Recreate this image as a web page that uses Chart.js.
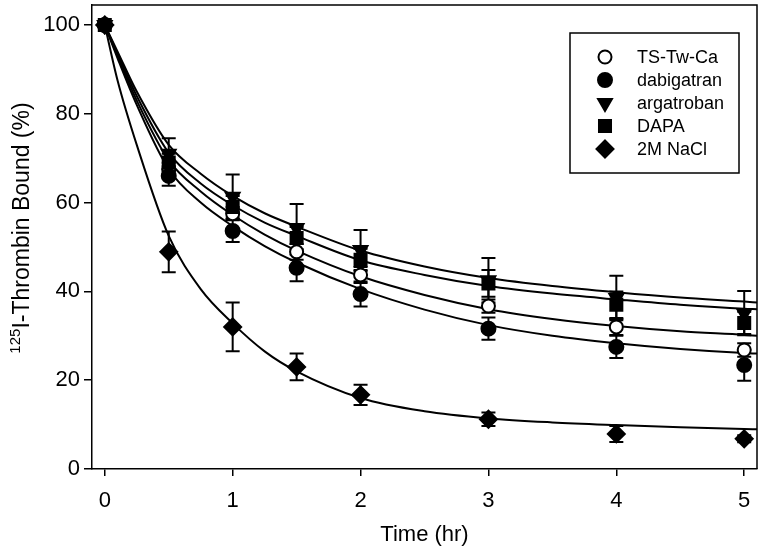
<!DOCTYPE html>
<html>
<head>
<meta charset="utf-8">
<script src="https://cdn.jsdelivr.net/npm/chart.js@4/dist/chart.umd.min.js"></script>
<style>
  html, body { margin: 0; padding: 0; background: #fff; }
</style>
</head>
<body>
<canvas id="chart" width="760" height="552"></canvas>
<script>
// Thrombin dissociation over time

const times = [0, 0.5, 1, 1.5, 2, 3, 4, 5];

const tsTwCa = [100, 67.5, 57.5, 48.9, 43.7, 36.7, 32.0, 26.8];
const tsTwCaSd = [0, 1.5, 1.5, 1.8, 1.8, 1.5, 1.8, 1.5];

const dabigatran = [100, 66.0, 53.6, 45.3, 39.4, 31.6, 27.5, 23.4];
const dabigatranSd = [0, 2.2, 2.5, 3.0, 2.8, 2.5, 2.5, 3.5];

const argatroban = [100, 71.0, 61.3, 54.3, 49.3, 42.5, 38.5, 35.1];
const argatrobanSd = [0, 3.5, 5.0, 5.4, 4.5, 5.0, 5.0, 5.0];

const dapa = [100, 69.0, 59.0, 52.0, 47.1, 41.8, 37.0, 32.9];
const dapaSd = [0, 2.0, 2.5, 2.5, 2.5, 3.0, 3.0, 2.5];

const nacl = [100, 48.9, 32.0, 23.0, 16.7, 11.2, 7.9, 6.8];
const naclSd = [0, 4.6, 5.5, 3.0, 2.3, 1.5, 1.8, 0.8];

// fitted curves
const fitTimes = [0, 0.1, 0.25, 0.5, 0.75, 1, 1.25, 1.5, 2, 2.5, 3, 3.5, 4, 4.5, 5, 5.1];
const argatrobanFit = [100, 94, 85, 73, 66.5, 61.5, 57.6, 54.6, 49.2, 45.6, 43.0, 41.2, 39.8, 38.6, 37.7, 37.5];
const dapaFit = [100, 93.5, 84, 71.2, 64.3, 59.4, 55.5, 52.5, 47.0, 43.7, 41.2, 39.5, 38.2, 37.0, 36.1, 36.0];
const tsTwCaFit = [100, 93, 83, 69.5, 62.5, 57.2, 52.8, 49.2, 43.4, 39.2, 36.0, 33.8, 32.2, 31.0, 30.2, 30.0];
const dabigatranFit = [100, 92.5, 82, 67.5, 60, 54.7, 50.2, 46.5, 40.5, 35.9, 32.4, 30.0, 28.3, 27.0, 26.1, 26.0];
const naclFit = [100, 87.5, 73, 52.5, 40.5, 32.8, 26.5, 22.0, 16.0, 13.0, 11.4, 10.5, 9.9, 9.4, 9.0, 8.95];

const xTicks = [0, 1, 2, 3, 4, 5];
const yTicks = [0, 20, 40, 60, 80, 100];

const FONT = "'Liberation Sans', Arial, sans-serif";

const series = [
  { label: "TS-Tw-Ca", values: tsTwCa, sd: tsTwCaSd, fit: tsTwCaFit, style: "circle", radius: 6.5, fill: "#fff", rotation: 0 },
  { label: "dabigatran", values: dabigatran, sd: dabigatranSd, fit: dabigatranFit, style: "circle", radius: 7, fill: "#000", rotation: 0 },
  { label: "argatroban", values: argatroban, sd: argatrobanSd, fit: argatrobanFit, style: "triangle", radius: 8, fill: "#000", rotation: 180 },
  { label: "DAPA", values: dapa, sd: dapaSd, fit: dapaFit, style: "rect", radius: 8.5, fill: "#000", rotation: 0 },
  { label: "2M NaCl", values: nacl, sd: naclSd, fit: naclFit, style: "rectRot", radius: 8.5, fill: "#000", rotation: 0 }
];

const datasets = [];

series.forEach((s, n) => {
  datasets.push({
    label: s.label + " fit",
    data: fitTimes.map((t, i) => ({ x: t, y: s.fit[i] })),
    showLine: true,
    borderColor: "#000",
    borderWidth: 2,
    pointRadius: 0,
    cubicInterpolationMode: "monotone",
    order: 10
  });
  datasets.push({
    label: s.label,
    data: times.map((t, i) => ({ x: t, y: s.values[i] })),
    sd: s.sd,
    showLine: false,
    pointStyle: s.style,
    pointRadius: s.radius,
    pointRotation: s.rotation,
    pointBackgroundColor: s.fill,
    pointBorderColor: "#000",
    pointBorderWidth: 2,
    order: 5 - n
  });
});

function drawMarker(ctx, s, x, y) {
  const r = s.radius;
  ctx.save();
  ctx.fillStyle = s.fill;
  ctx.strokeStyle = "#000";
  ctx.lineWidth = 2;
  ctx.beginPath();
  if (s.style === "circle") {
    ctx.arc(x, y, r, 0, Math.PI * 2);
  } else if (s.style === "triangle") {
    for (let k = 0; k < 3; k++) {
      const a = Math.PI + k * 2 * Math.PI / 3;
      const px = x + Math.sin(a) * r;
      const py = y - Math.cos(a) * r;
      if (k === 0) ctx.moveTo(px, py); else ctx.lineTo(px, py);
    }
    ctx.closePath();
  } else if (s.style === "rect") {
    const h = r * Math.SQRT1_2;
    ctx.rect(x - h, y - h, 2 * h, 2 * h);
  } else {
    ctx.moveTo(x, y - r);
    ctx.lineTo(x + r, y);
    ctx.lineTo(x, y + r);
    ctx.lineTo(x - r, y);
    ctx.closePath();
  }
  ctx.fill();
  ctx.stroke();
  ctx.restore();
}

const errorBars = {
  id: "errorBars",
  beforeDatasetsDraw(chart) {
    const ctx = chart.ctx;
    const xs = chart.scales.x;
    const ys = chart.scales.y;
    ctx.save();
    ctx.strokeStyle = "#000";
    ctx.lineWidth = 2;
    chart.data.datasets.forEach(ds => {
      if (!ds.sd) return;
      ds.data.forEach((p, i) => {
        const e = ds.sd[i];
        if (!e) return;
        const x = xs.getPixelForValue(p.x);
        const y1 = ys.getPixelForValue(p.y + e);
        const y2 = ys.getPixelForValue(p.y - e);
        ctx.beginPath();
        ctx.moveTo(x, y1); ctx.lineTo(x, y2);
        ctx.moveTo(x - 7, y1); ctx.lineTo(x + 7, y1);
        ctx.moveTo(x - 7, y2); ctx.lineTo(x + 7, y2);
        ctx.stroke();
      });
    });
    ctx.restore();
  }
};

const frame = {
  id: "frame",
  afterDraw(chart) {
    const ctx = chart.ctx;
    const a = chart.chartArea;
    ctx.save();
    ctx.strokeStyle = "#000";
    ctx.lineWidth = 1.5;
    ctx.beginPath();
    ctx.moveTo(a.left, a.top);
    ctx.lineTo(a.right, a.top);
    ctx.lineTo(a.right, a.bottom);
    ctx.stroke();

    // legend box
    ctx.strokeRect(570, 33, 169, 140);
    ctx.fillStyle = "#000";
    ctx.font = "18px " + FONT;
    ctx.textBaseline = "middle";
    ctx.textAlign = "left";
    series.forEach((s, i) => {
      const y = 57 + i * 23;
      drawMarker(ctx, s, 605, y);
      ctx.fillStyle = "#000";
      ctx.fillText(s.label, 637, y + 1);
    });

    // axis titles
    ctx.font = "22px " + FONT;
    ctx.textAlign = "center";
    ctx.textBaseline = "middle";
    ctx.fillText("Time (hr)", (a.left + a.right) / 2, 535);

    ctx.translate(22, 228);
    ctx.rotate(-Math.PI / 2);
    const sup = "125";
    const main = "I-Thrombin Bound (%)";
    ctx.font = "15px " + FONT;
    const wSup = ctx.measureText(sup).width;
    ctx.font = "23px " + FONT;
    const wMain = ctx.measureText(main).width;
    const start = -(wSup + wMain) / 2;
    ctx.textAlign = "left";
    ctx.font = "15px " + FONT;
    ctx.fillText(sup, start, -6);
    ctx.font = "23px " + FONT;
    ctx.fillText(main, start + wSup, 1);
    ctx.restore();
  }
};

new Chart(document.getElementById("chart"), {
  type: "scatter",
  data: { datasets },
  options: {
    responsive: false,
    animation: false,
    layout: { autoPadding: false, padding: { top: 5, right: 3, left: 0, bottom: 0 } },
    plugins: {
      legend: { display: false },
      tooltip: { enabled: false }
    },
    scales: {
      x: {
        type: "linear",
        min: -0.1,
        max: 5.1,
        afterBuildTicks: scale => { scale.ticks = xTicks.map(v => ({ value: v })); },
        afterFit: scale => { scale.height = 83; scale.paddingLeft = 0; scale.paddingRight = 0; },
        grid: { drawOnChartArea: false, drawTicks: true, tickLength: 7, color: "#000", lineWidth: 1.5 },
        border: { display: true, color: "#000", width: 1.5 },
        ticks: { color: "#000", font: { family: FONT, size: 22 }, padding: 12, maxRotation: 0 }
      },
      y: {
        min: 0,
        max: 104.5,
        afterBuildTicks: scale => { scale.ticks = yTicks.map(v => ({ value: v })); },
        afterFit: scale => { scale.width = 92; scale.paddingTop = 0; scale.paddingBottom = 0; },
        grid: { drawOnChartArea: false, drawTicks: true, tickLength: 8, color: "#000", lineWidth: 1.5 },
        border: { display: true, color: "#000", width: 1.5 },
        ticks: { color: "#000", font: { family: FONT, size: 22 }, padding: 4 }
      }
    }
  },
  plugins: [errorBars, frame]
});
</script>
</body>
</html>
